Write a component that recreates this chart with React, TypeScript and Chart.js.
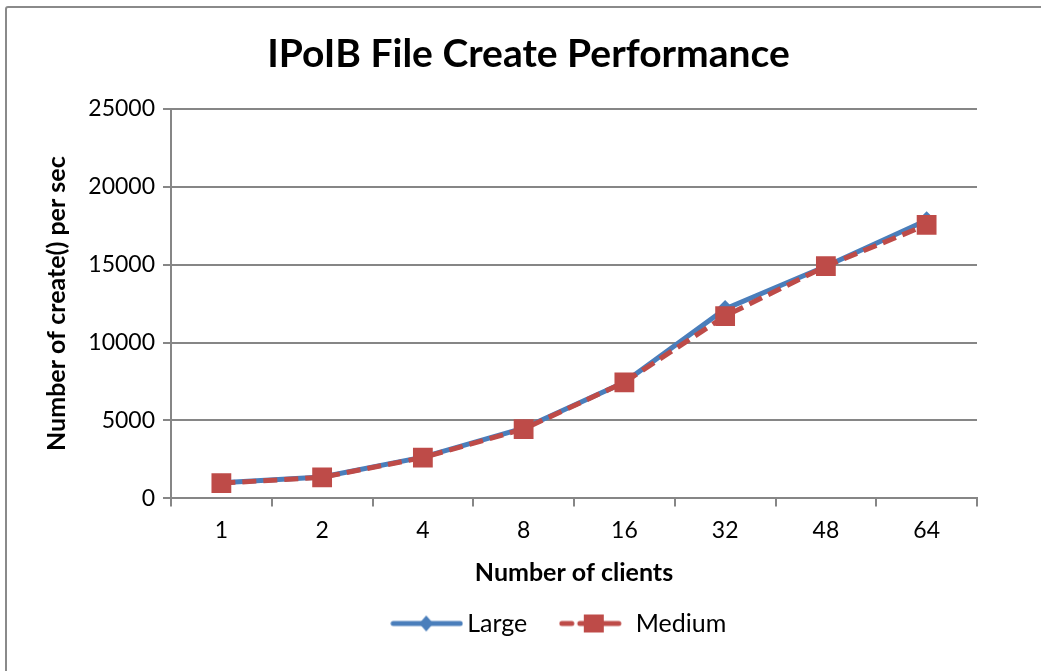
import React, { useEffect, useRef } from "react";
import { Chart, registerables } from "chart.js";

Chart.register(...registerables);

const categories = ["1", "2", "4", "8", "16", "32", "48", "64"];
const largeValues = [1000, 1380, 2650, 4500, 7450, 12150, 14900, 17850];
const mediumValues = [980, 1350, 2620, 4450, 7450, 11700, 14900, 17550];
const seriesNames = ["Large", "Medium"];
const yTicks = [0, 5000, 10000, 15000, 20000, 25000];

const BLUE = "#4A7EBB";
const RED = "#BE4B48";
const FONT = "Lato, 'Open Sans', sans-serif";

function makeLegendImage(kind: "large" | "medium"): HTMLCanvasElement {
  const c = document.createElement("canvas");
  c.width = 73;
  c.height = 24;
  const ctx = c.getContext("2d")!;
  ctx.lineCap = "round";
  if (kind === "large") {
    ctx.strokeStyle = BLUE;
    ctx.lineWidth = 5;
    ctx.beginPath();
    ctx.moveTo(3, 12);
    ctx.lineTo(70, 12);
    ctx.stroke();
    ctx.fillStyle = BLUE;
    ctx.beginPath();
    ctx.moveTo(36, 4);
    ctx.lineTo(43, 12);
    ctx.lineTo(36, 20);
    ctx.lineTo(29, 12);
    ctx.closePath();
    ctx.fill();
  } else {
    ctx.strokeStyle = RED;
    ctx.lineWidth = 5;
    ctx.beginPath();
    ctx.moveTo(3, 12);
    ctx.lineTo(13, 12);
    ctx.moveTo(21, 12);
    ctx.lineTo(60, 12);
    ctx.stroke();
    ctx.fillStyle = RED;
    ctx.fillRect(25, 3, 20, 18);
  }
  return c;
}

const shiftPlugin = {
  id: "shiftBlocks",
  afterLayout(chart: any) {
    const lg = chart.legend;
    if (lg) {
      lg.left += 53;
      lg.right += 53;
      lg.top -= 17;
      lg.bottom -= 17;
    }
    const t = chart.titleBlock;
    if (t) {
      t.left += 19;
      t.right += 19;
    }
  },
};

export default function App() {
  const ref = useRef<HTMLCanvasElement>(null);

  useEffect(() => {
    if (!ref.current) return;
    const imgs = [makeLegendImage("large"), makeLegendImage("medium")];
    const chart = new Chart(ref.current, {
      type: "line",
      data: {
        labels: categories,
        datasets: [
          {
            label: seriesNames[0],
            data: largeValues,
            borderColor: BLUE,
            backgroundColor: BLUE,
            borderWidth: 5,
            pointStyle: "rectRot",
            pointRadius: 9,
            pointBorderWidth: 0,
            tension: 0,
            order: 1,
          },
          {
            label: seriesNames[1],
            data: mediumValues,
            borderColor: RED,
            backgroundColor: RED,
            borderWidth: 5,
            borderDash: [14, 7],
            pointStyle: "rect",
            pointRadius: 14,
            pointBorderWidth: 0,
            tension: 0,
            order: 0,
          },
        ],
      },
      plugins: [shiftPlugin],
      options: {
        responsive: false,
        animation: false,
        layout: { padding: { left: 42, right: 64, top: 6, bottom: 8 } },
        plugins: {
          tooltip: { enabled: false },
          title: {
            display: true,
            text: "IPoIB File Create Performance",
            color: "#000",
            font: { family: FONT, size: 39, weight: "bold" },
            padding: { top: 25, bottom: 31 },
          },
          legend: {
            position: "bottom",
            labels: {
              usePointStyle: true,
              pointStyleWidth: 56,
              color: "#000",
              font: { family: FONT, size: 25 },
              padding: 40,
              generateLabels: () =>
                seriesNames.map((name, i) => ({
                  text: name,
                  pointStyle: imgs[i] as any,
                  fillStyle: "transparent",
                  strokeStyle: "transparent",
                  lineWidth: 0,
                  hidden: false,
                  datasetIndex: i,
                  fontColor: "#000",
                })),
            },
          },
        },
        scales: {
          x: {
            offset: true,
            grid: {
              offset: true,
              drawOnChartArea: false,
              drawTicks: true,
              tickLength: 8,
              color: "#868686",
              lineWidth: 2,
            },
            border: { color: "#868686", width: 2 },
            ticks: {
              color: "#000",
              font: { family: FONT, size: 23 },
              padding: 10,
            },
            title: {
              display: true,
              text: "Number of clients",
              color: "#000",
              font: { family: FONT, size: 25, weight: "bold" },
              padding: { top: 4, bottom: 0 },
            },
          },
          y: {
            min: 0,
            max: 25000,
            afterBuildTicks: (scale: any) => {
              scale.ticks = yTicks.map((v) => ({ value: v }));
            },
            afterFit: (scale: any) => {
              scale.width = 171 - 42;
            },
            grid: {
              drawTicks: true,
              tickLength: 8,
              color: "#868686",
              lineWidth: 2,
            },
            border: { color: "#868686", width: 2 },
            ticks: {
              color: "#000",
              font: { family: FONT, size: 23 },
              padding: 8,
              callback: (v: any) => String(v),
            },
            title: {
              display: true,
              text: "Number of create() per sec",
              color: "#000",
              font: { family: FONT, size: 25, weight: "bold" },
              padding: { top: 0, bottom: 0 },
            },
          },
        },
      },
    } as any);
    return () => chart.destroy();
  }, []);

  return (
    <div style={{ position: "fixed", left: 0, top: 0, width: 1041, height: 671, background: "#fff" }}>
      <canvas
        ref={ref}
        width={1041}
        height={671}
        style={{ position: "absolute", left: 0, top: 0, width: 1041, height: 671 }}
      />
      <div
        style={{
          position: "absolute",
          left: 5,
          top: 6,
          width: 1040,
          height: 720,
          border: "2px solid #8a8a8a",
          borderRadius: 3,
          boxSizing: "border-box",
          pointerEvents: "none",
        }}
      />
    </div>
  );
}
